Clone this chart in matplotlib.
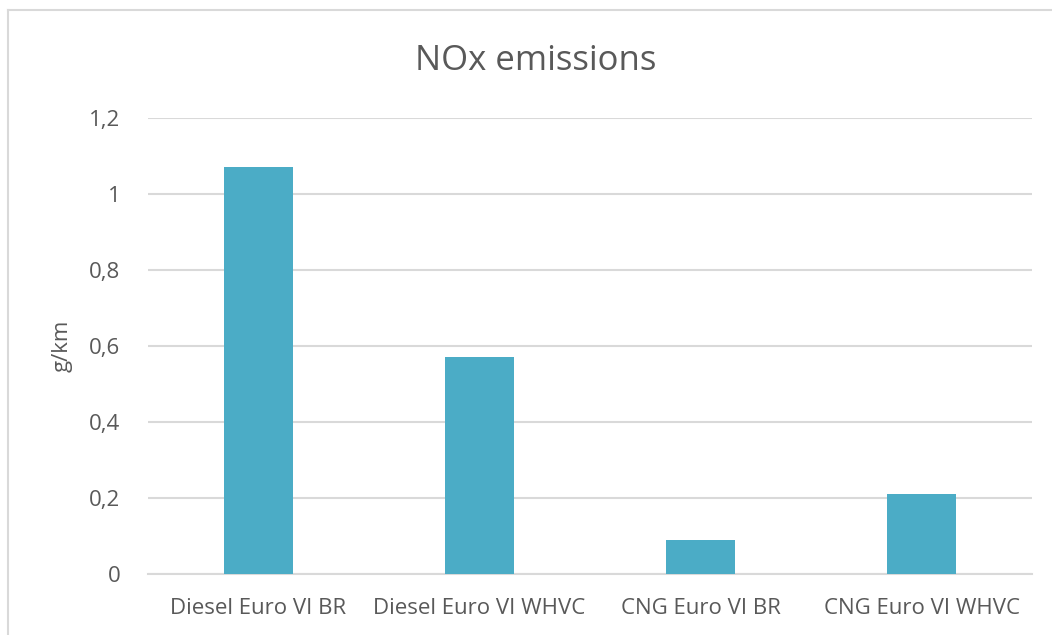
import matplotlib
matplotlib.use("Agg")
import matplotlib.pyplot as plt
from matplotlib.lines import Line2D

categories = ["Diesel Euro VI BR", "Diesel Euro VI WHVC", "CNG Euro VI BR", "CNG Euro VI WHVC"]
values = [1.07, 0.57, 0.09, 0.21]
yticks = [0, 0.2, 0.4, 0.6, 0.8, 1.0, 1.2]
ytick_labels = ["0", "0,2", "0,4", "0,6", "0,8", "1", "1,2"]

W, H = 1052, 635
plt.rcParams['font.family'] = ['Open Sans', 'DejaVu Sans']
text_color = "#595959"
grid_color = "#d9d9d9"
bar_color = "#4BACC6"
fw = "normal"

fig = plt.figure(figsize=(W/100, H/100), dpi=100)
ax = fig.add_axes([148/W, 1-574/H, (1032-148)/W, (574-118)/H])

x = list(range(len(categories)))
ax.bar(x, values, width=0.31, color=bar_color, zorder=3)
ax.set_xlim(-0.5, len(categories)-0.5)
ax.set_ylim(0, 1.2)
ax.set_yticks(yticks)
ax.set_yticklabels(ytick_labels)
ax.set_xticks(x)
ax.set_xticklabels(categories)
ax.yaxis.grid(True, color=grid_color, linewidth=1.5, zorder=0)
for s in ["top", "right", "left"]:
    ax.spines[s].set_visible(False)
ax.spines["bottom"].set_color(grid_color)
ax.spines["bottom"].set_linewidth(1.5)
ax.tick_params(axis="both", length=0, colors=text_color, labelsize=16)
ax.tick_params(axis="y", pad=20)
ax.tick_params(axis="x", pad=17)
for lbl in ax.get_xticklabels() + ax.get_yticklabels():
    lbl.set_fontweight(fw)
ax.set_ylabel("g/km", color=text_color, fontsize=16, labelpad=12, fontweight=fw)

fig.text(536/W, 1-61/H, "NOx emissions", ha="center", va="center", fontsize=25,
         color=text_color, fontweight=fw)

# chart frame
fig.add_artist(Line2D([8/W, 8/W], [0, 1-10/H], color=grid_color, linewidth=1.5, transform=fig.transFigure))
fig.add_artist(Line2D([8/W, 1], [1-10/H, 1-10/H], color=grid_color, linewidth=1.5, transform=fig.transFigure))

fig.savefig("out.png", dpi=100)
